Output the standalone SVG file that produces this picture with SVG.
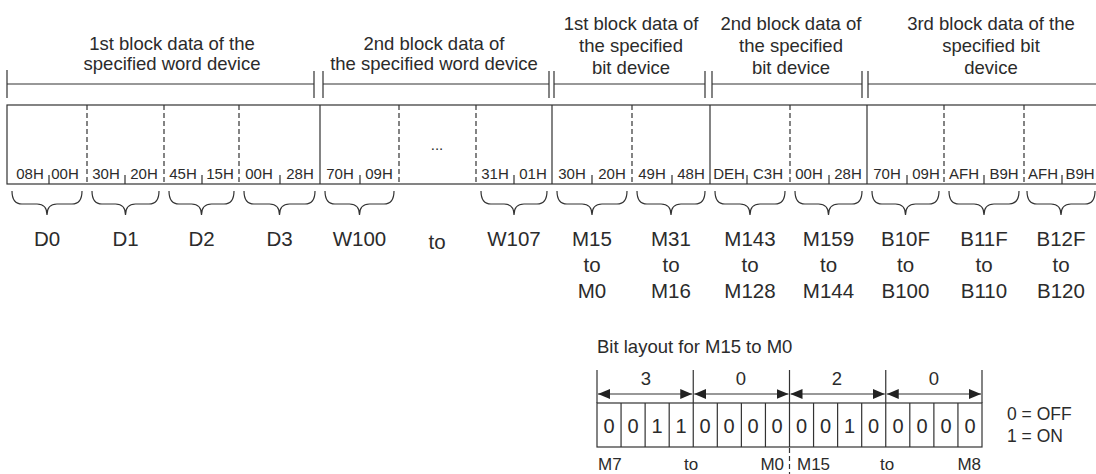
<svg xmlns="http://www.w3.org/2000/svg" width="1096" height="474" viewBox="0 0 1096 474">
<style>
text{font-family:"Liberation Sans",Arial,sans-serif;fill:#2b2b2b}
.lbl{font-size:18.5px;text-anchor:middle}
.hex{font-size:15px;text-anchor:middle}
.dev{font-size:20.5px;text-anchor:middle}
.bit{font-size:20px;text-anchor:middle}
.sm{font-size:17px}
.ln{stroke:#333;stroke-width:1.2;fill:none}
.dash{stroke:#333;stroke-width:1.2;fill:none;stroke-dasharray:5 3}
.brace{stroke:#333;stroke-width:1.2;fill:none}
</style>
<defs>
<marker id="ah" viewBox="0 0 12 10" refX="12" refY="5" markerWidth="12" markerHeight="10" markerUnits="userSpaceOnUse" orient="auto-start-reverse">
<path d="M0,0 L12,5 L0,10 z" fill="#222"/>
</marker>
</defs>

<g id="top-labels">
<g id="label-word1">
<text class="lbl" x="172" y="50">1st block data of the</text>
<text class="lbl" x="172" y="70">specified word device</text>
</g>
<g id="label-word2">
<text class="lbl" x="434" y="50">2nd block data of</text>
<text class="lbl" x="434" y="70">the specified word device</text>
</g>
<g id="label-bit1">
<text class="lbl" x="631" y="30">1st block data of</text>
<text class="lbl" x="631" y="52">the specified</text>
<text class="lbl" x="631" y="74">bit device</text>
</g>
<g id="label-bit2">
<text class="lbl" x="791" y="30">2nd block data of</text>
<text class="lbl" x="791" y="52">the specified</text>
<text class="lbl" x="791" y="74">bit device</text>
</g>
<g id="label-bit3">
<text class="lbl" x="991" y="30">3rd block data of the</text>
<text class="lbl" x="991" y="52">specified bit</text>
<text class="lbl" x="991" y="74">device</text>
</g>
</g>

<g id="connectors">
<path class="ln" d="M7,70 V98 M7,84 H314 M314,71 V98 M323,71 V98 M323,84 H549 M549,71 V98 M554,71 V98 M554,84 H705 M705,71 V98 M712,71 V98 M712,84 H862 M862,71 V98 M868,71 V98 M868,84 H1096"/>
<g id="braces">
<path class="brace" d="M12,191 Q12,204 22,204 H37 Q47,204 47,215 Q47,204 57,204 H72 Q82,204 82,191"/>
<path class="brace" d="M92,191 Q92,204 102,204 H115.5 Q125.5,204 125.5,215 Q125.5,204 135.5,204 H149 Q159,204 159,191"/>
<path class="brace" d="M169,191 Q169,204 179,204 H191.5 Q201.5,204 201.5,215 Q201.5,204 211.5,204 H224 Q234,204 234,191"/>
<path class="brace" d="M244,191 Q244,204 254,204 H269.5 Q279.5,204 279.5,215 Q279.5,204 289.5,204 H305 Q315,204 315,191"/>
<path class="brace" d="M325,191 Q325,204 335,204 H349.5 Q359.5,204 359.5,215 Q359.5,204 369.5,204 H384 Q394,204 394,191"/>
<path class="brace" d="M481,191 Q481,204 491,204 H504 Q514,204 514,215 Q514,204 524,204 H537 Q547,204 547,191"/>
<path class="brace" d="M557,191 Q557,204 567,204 H582 Q592,204 592,215 Q592,204 602,204 H617 Q627,204 627,191"/>
<path class="brace" d="M637,191 Q637,204 647,204 H661 Q671,204 671,215 Q671,204 681,204 H695 Q705,204 705,191"/>
<path class="brace" d="M715,191 Q715,204 725,204 H740 Q750,204 750,215 Q750,204 760,204 H775 Q785,204 785,191"/>
<path class="brace" d="M795,191 Q795,204 805,204 H818.5 Q828.5,204 828.5,215 Q828.5,204 838.5,204 H852 Q862,204 862,191"/>
<path class="brace" d="M872,191 Q872,204 882,204 H895.5 Q905.5,204 905.5,215 Q905.5,204 915.5,204 H929 Q939,204 939,191"/>
<path class="brace" d="M949,191 Q949,204 959,204 H974 Q984,204 984,215 Q984,204 994,204 H1009 Q1019,204 1019,191"/>
<path class="brace" d="M1027,191 Q1027,204 1037,204 H1051 Q1061,204 1061,215 Q1061,204 1071,204 H1085 Q1095,204 1095,191"/>
</g>
</g>

<g id="data-row">
<rect class="ln" x="7" y="105" width="1100" height="79"/>
<path class="ln" d="M320,105 V184 M552,105 V184 M710,105 V184 M867,105 V184"/>
<path class="dash" d="M87,105 V184 M164,105 V184 M239,105 V184 M399,105 V184 M476,105 V184 M632,105 V184 M790,105 V184 M944,105 V184 M1024,105 V184"/>
<path class="ln" d="M49,175 V184 M125,175 V184 M202,175 V184 M280,175 V184 M360,175 V184 M514,175 V184 M592,175 V184 M672,175 V184 M747,175 V184 M829,175 V184 M907,175 V184 M984,175 V184 M1062,175 V184"/>
<g id="cell-D0"><text class="hex" x="30" y="179">08H</text><text class="hex" x="65" y="179">00H</text><text class="dev" x="47" y="246">D0</text></g>
<g id="cell-D1"><text class="hex" x="106" y="179">30H</text><text class="hex" x="144" y="179">20H</text><text class="dev" x="125.5" y="246">D1</text></g>
<g id="cell-D2"><text class="hex" x="183" y="179">45H</text><text class="hex" x="220" y="179">15H</text><text class="dev" x="201.5" y="246">D2</text></g>
<g id="cell-D3"><text class="hex" x="259" y="179">00H</text><text class="hex" x="300" y="179">28H</text><text class="dev" x="279.5" y="246">D3</text></g>
<g id="cell-W100"><text class="hex" x="340" y="179">70H</text><text class="hex" x="379" y="179">09H</text><text class="dev" x="359.5" y="246">W100</text></g>
<g id="cell-to"><text class="hex" x="437" y="150">...</text><text class="dev" x="437" y="249">to</text></g>
<g id="cell-W107"><text class="hex" x="495" y="179">31H</text><text class="hex" x="533" y="179">01H</text><text class="dev" x="514" y="246">W107</text></g>
<g id="cell-M15"><text class="hex" x="572" y="179">30H</text><text class="hex" x="612" y="179">20H</text><text class="dev" x="592" y="246">M15</text><text class="dev" x="592" y="272">to</text><text class="dev" x="592" y="298">M0</text></g>
<g id="cell-M31"><text class="hex" x="652" y="179">49H</text><text class="hex" x="691" y="179">48H</text><text class="dev" x="671" y="246">M31</text><text class="dev" x="671" y="272">to</text><text class="dev" x="671" y="298">M16</text></g>
<g id="cell-M143"><text class="hex" x="729" y="179">DEH</text><text class="hex" x="768" y="179">C3H</text><text class="dev" x="750" y="246">M143</text><text class="dev" x="750" y="272">to</text><text class="dev" x="750" y="298">M128</text></g>
<g id="cell-M159"><text class="hex" x="809" y="179">00H</text><text class="hex" x="848" y="179">28H</text><text class="dev" x="828.5" y="246">M159</text><text class="dev" x="828.5" y="272">to</text><text class="dev" x="828.5" y="298">M144</text></g>
<g id="cell-B10F"><text class="hex" x="887" y="179">70H</text><text class="hex" x="926" y="179">09H</text><text class="dev" x="905.5" y="246">B10F</text><text class="dev" x="905.5" y="272">to</text><text class="dev" x="905.5" y="298">B100</text></g>
<g id="cell-B11F"><text class="hex" x="964" y="179">AFH</text><text class="hex" x="1004" y="179">B9H</text><text class="dev" x="984" y="246">B11F</text><text class="dev" x="984" y="272">to</text><text class="dev" x="984" y="298">B110</text></g>
<g id="cell-B12F"><text class="hex" x="1043" y="179">AFH</text><text class="hex" x="1080" y="179">B9H</text><text class="dev" x="1061" y="246">B12F</text><text class="dev" x="1061" y="272">to</text><text class="dev" x="1061" y="298">B120</text></g>
</g>

<g id="bit-layout">
<text class="lbl" x="597" y="353" style="text-anchor:start">Bit layout for M15 to M0</text>
<path class="ln" d="M597,370 V403 M693.25,370 V403 M789.5,370 V403 M885.75,370 V403 M982,370 V403"/>
<g id="arrows">
<line class="ln" x1="598" y1="394" x2="692.25" y2="394" marker-start="url(#ah)" marker-end="url(#ah)"/>
<line class="ln" x1="694.25" y1="394" x2="788.5" y2="394" marker-start="url(#ah)" marker-end="url(#ah)"/>
<line class="ln" x1="790.5" y1="394" x2="884.75" y2="394" marker-start="url(#ah)" marker-end="url(#ah)"/>
<line class="ln" x1="886.75" y1="394" x2="981" y2="394" marker-start="url(#ah)" marker-end="url(#ah)"/>
</g>
<text class="lbl" x="646" y="385">3</text>
<text class="lbl" x="741" y="385">0</text>
<text class="lbl" x="837" y="385">2</text>
<text class="lbl" x="934" y="385">0</text>
<rect class="ln" x="597" y="403" width="385" height="44"/>
<path class="ln" d="M621.06,403 V447 M645.12,403 V447 M669.19,403 V447 M693.25,403 V447 M717.31,403 V447 M741.38,403 V447 M765.44,403 V447 M789.5,403 V447 M813.56,403 V447 M837.62,403 V447 M861.69,403 V447 M885.75,403 V447 M909.81,403 V447 M933.88,403 V447 M957.94,403 V447"/>
<g id="bits">
<text class="bit" x="609" y="433">0</text>
<text class="bit" x="633" y="433">0</text>
<text class="bit" x="657" y="433">1</text>
<text class="bit" x="681" y="433">1</text>
<text class="bit" x="705" y="433">0</text>
<text class="bit" x="729" y="433">0</text>
<text class="bit" x="753" y="433">0</text>
<text class="bit" x="777" y="433">0</text>
<text class="bit" x="801.5" y="433">0</text>
<text class="bit" x="825.5" y="433">0</text>
<text class="bit" x="849.5" y="433">1</text>
<text class="bit" x="873.5" y="433">0</text>
<text class="bit" x="898" y="433">0</text>
<text class="bit" x="922" y="433">0</text>
<text class="bit" x="946" y="433">0</text>
<text class="bit" x="970" y="433">0</text>
</g>
<path class="dash" d="M789.5,448 V474"/>
<text class="sm" x="598" y="470">M7</text>
<text class="sm" x="691" y="470" style="text-anchor:middle">to</text>
<text class="sm" x="784" y="470" style="text-anchor:end">M0</text>
<text class="sm" x="797" y="470">M15</text>
<text class="sm" x="887" y="470" style="text-anchor:middle">to</text>
<text class="sm" x="981" y="470" style="text-anchor:end">M8</text>
</g>

<g id="legend">
<text class="sm" x="1007" y="420" style="font-size:17.5px">0 = OFF</text>
<text class="sm" x="1007" y="442" style="font-size:17.5px">1 = ON</text>
</g>
</svg>
